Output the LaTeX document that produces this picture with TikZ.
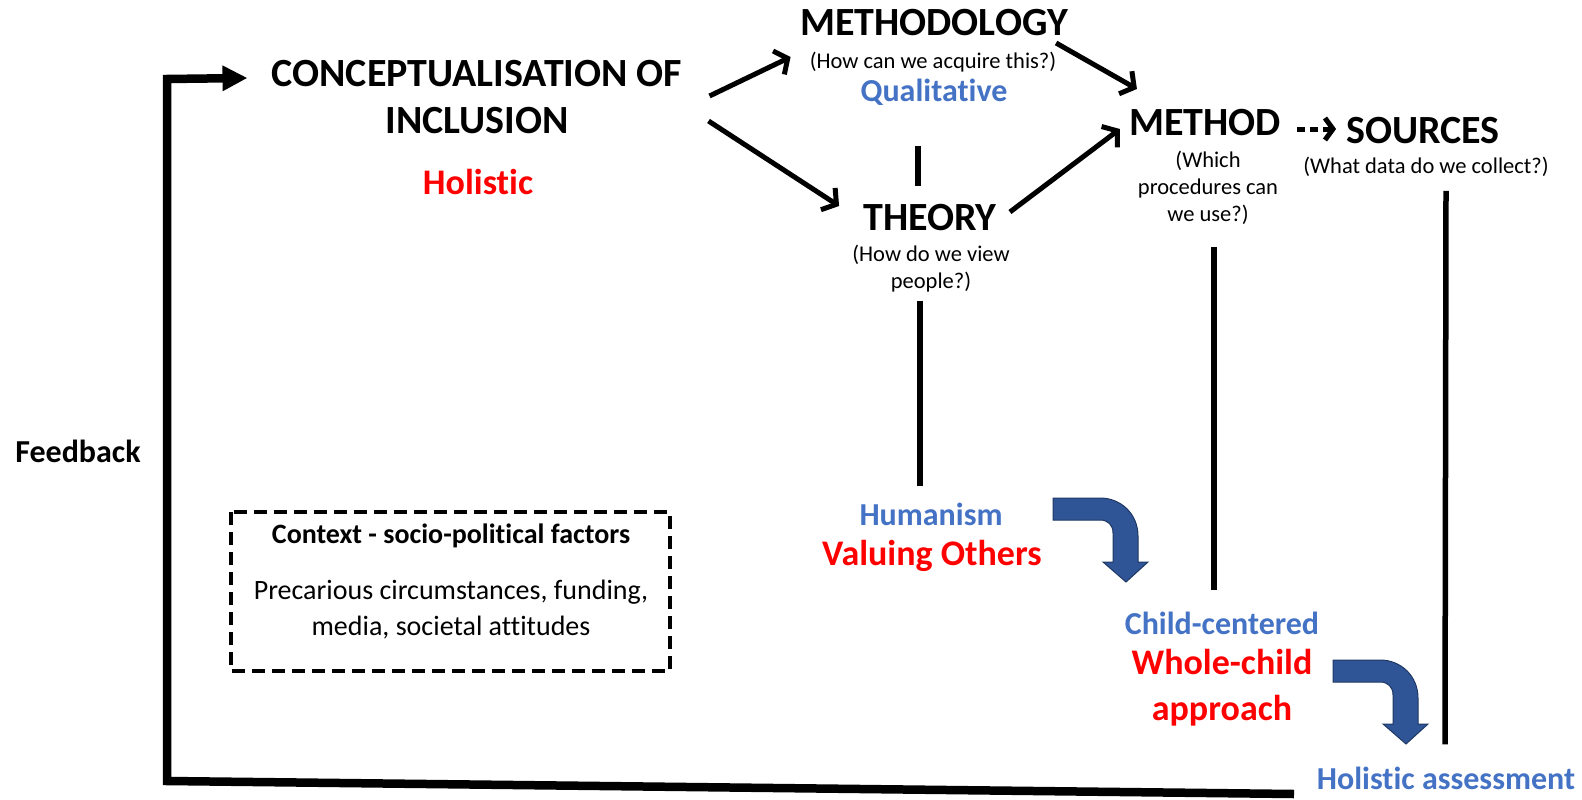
\documentclass[tikz,border=0pt]{standalone}
\usepackage{fontspec}
\setmainfont{Carlito}[Ligatures=NoCommon]
\usetikzlibrary{arrows.meta,positioning}
\definecolor{qblue}{HTML}{4472C4}
\definecolor{qred}{HTML}{FF0000}
\definecolor{afill}{HTML}{2F5597}
\definecolor{aline}{HTML}{1F3864}
\tikzset{head/.style={inner sep=0pt, font=\bfseries\fontsize{40}{47}\selectfont, align=center}}
\tikzset{note/.style={inner sep=0pt, font=\fontsize{22.5}{27}\selectfont, align=center}}
\tikzset{bluelab/.style={inner sep=0pt, text=qblue, font=\bfseries\fontsize{32}{38}\selectfont}}
\tikzset{redlab/.style={inner sep=0pt, text=qred, font=\bfseries\fontsize{36}{46}\selectfont, align=center}}
\tikzset{arr/.style={line width=5pt, -{Straight Barb[length=10pt,width=26pt]}}}
\tikzset{link/.style={line width=5.5pt}}
% blue bent arrow, #1 = top left corner
\newcommand{\turnarrow}[1]{%
\filldraw[fill=afill, draw=aline, line width=1pt, shift={#1}]
  (0,0) -- (47,0) .. controls (68,0) and (85,16) .. (85,38) -- (85,64) -- (95,64)
  -- (73,84) -- (50,64) -- (60,64) -- (60,35) .. controls (60,27) and (55,22) .. (47,22)
  -- (0,22) -- cycle;}

\begin{document}
\begin{tikzpicture}[x=1pt, y=-1pt, line join=miter]
\useasboundingbox (0,0) rectangle (1582,800);

\node[head] (concept) at (477,97) {CONCEPTUALISATION OF\\INCLUSION};
\node[redlab] (holistic) at (478,182) {Holistic};

\node[head] (methodology) at (934,23) {METHODOLOGY};
\node[note] (methq) at (933,62) {(How can we acquire this?)};
\node[bluelab] (qual) at (934,92) {Qualitative};

\node[head] (theory) at (930,218) {THEORY};
\node[note] (theoq) at (931,269) {(How do we view\\people?)};
\node[bluelab] (human) at (931,514) {Humanism};
\node[redlab] (valuing) at (932,556) {Valuing Others};

\node[head] (method) at (1205,123) {METHOD};
\node[note] (methodq) at (1208,188) {(Which\\procedures can\\we use?)};
\node[bluelab] (child) at (1222,623) {Child-centered};
\node[redlab] (whole) at (1222,688) {Whole-child\\approach};

\node[head] (sources) at (1423,131) {SOURCES};
\node[note] (sourcesq) at (1426,167) {(What data do we collect?)};
\node[bluelab] (assess) at (1446,778) {Holistic assessment};

\node[inner sep=0pt, font=\bfseries\fontsize{32}{38}\selectfont] (feedback) at (78,451) {Feedback};

% context box
\draw[line width=4pt, dash pattern=on 13pt off 7pt] (231,512) rectangle (670,671);
\node[inner sep=0pt, font=\bfseries\fontsize{28}{34}\selectfont] (ctxhead) at (451,536) {Context - socio-political factors};
\node[inner sep=0pt, font=\fontsize{28}{36}\selectfont, align=center] (ctxbody) at (451,610)
  {Precarious circumstances, funding,\\media, societal attitudes};

% arrows
\draw[arr] ([shift={(27,-1)}]concept.east) -- ([shift={(-19,-5)}]methq.west);
\draw[arr] ([shift={(26,24)}]concept.east) -- ([shift={(-24,-12)}]theory.west);
\draw[arr] ([shift={(-12,20)}]methodology.east) -- ([shift={(8,-34)}]method.west);
\draw[arr] ([shift={(13,-6)}]theory.east) -- ([shift={(-9,6)}]method.west);
\draw[line width=5pt, dash pattern=on 8pt off 5pt, -{Straight Barb[length=8pt,width=22pt]}]
  ([shift={(16,6)}]method.east) -- ([shift={(-10,-2)}]sources.west);

% plain links
\draw[link] ([shift={(-16,41)}]qual.south) -- ([shift={(-12,-19)}]theory.north);
\draw[link] ([shift={(-11,8)}]theoq.south) -- ([shift={(-11,-16)}]human.north);
\draw[link] ([shift={(6,22)}]methodq.south) -- ([shift={(-8,-21)}]child.north);
\draw[link] ([shift={(20,14)}]sourcesq.south) -- ([shift={(-1,-22)}]assess.north);

% feedback loop
\coordinate (fbend) at (1294,794);
\draw[line width=8.5pt, -{Triangle[length=25pt,width=24pt]}]
  (fbend) -- (167,781) -- (167,79) -- ([shift={(-24,-19)}]concept.west);

\turnarrow{(1053,498)}
\turnarrow{(1333,660)}
\end{tikzpicture}
\end{document}
